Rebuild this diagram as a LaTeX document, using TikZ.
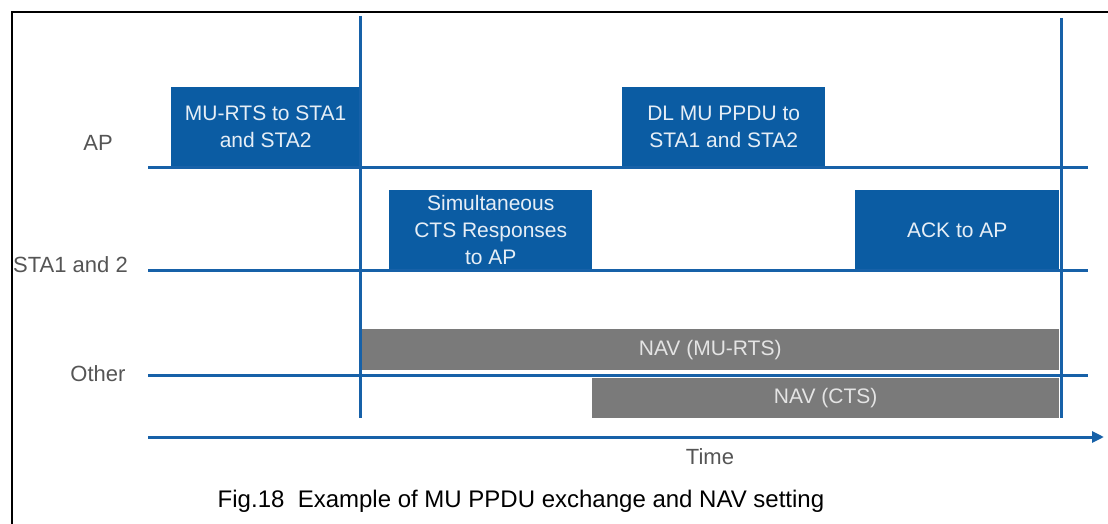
\documentclass[tikz,border=0pt]{standalone}
\usepackage{fontspec}
\setmainfont{Liberation Sans}
\usetikzlibrary{arrows.meta}
\definecolor{bbox}{HTML}{0B5CA3}
\definecolor{bline}{HTML}{1761A8}
\definecolor{gbox}{HTML}{7A7A7A}
\definecolor{lbl}{HTML}{555555}
\definecolor{btxt}{HTML}{E6EEF6}
\definecolor{gtxt}{HTML}{E4E4E4}
\tikzset{
  bluebox/.style={fill=bbox, draw=none, text=btxt, align=center, inner sep=0pt,
    font=\fontsize{21}{27}\selectfont},
  graybox/.style={fill=gbox, draw=none, text=gtxt, inner sep=0pt,
    font=\fontsize{21}{24}\selectfont},
  tline/.style={draw=bline, line width=3pt},
  rowlabel/.style={text=lbl, inner sep=0pt, font=\fontsize{22}{24}\selectfont},
}
\begin{document}
\begin{tikzpicture}[x=1pt,y=-1pt]
\useasboundingbox (0,0) rectangle (1108,524);
% frame
\draw[black, line width=2.5pt] (12,524) -- (12,12) -- (1108,12);
% gray NAV bars
\node[graybox, minimum width=698, minimum height=41, anchor=north west] (navrts) at (361,329) {NAV (MU-RTS)};
\node[graybox, minimum width=467, minimum height=40, anchor=north west] (navcts) at (592,378) {NAV (CTS)};
% blue boxes
\node[bluebox, minimum width=189, minimum height=80, anchor=south west] (murts) at (171,167) {MU-RTS to STA1\\and STA2};
\node[bluebox, minimum width=203, minimum height=80, anchor=south west] (dlmu) at (622,167) {DL MU PPDU to\\STA1 and STA2};
\node[bluebox, minimum width=203, minimum height=80, anchor=south west] (cts) at (389,270) {Simultaneous\\CTS Responses\\to AP};
\node[bluebox, minimum width=204, minimum height=80, anchor=south west] (ack) at (855,270) {ACK to AP};
% timelines
\coordinate (apL) at (148,167); \coordinate (apR) at (1088,167);
\coordinate (staL) at (148,270); \coordinate (staR) at (1088,270);
\coordinate (otL) at (148,375); \coordinate (otR) at (1088,375);
\coordinate (tL) at (148,437); \coordinate (tR) at (1104,437);
\draw[tline] (apL) -- (apR);
\draw[tline] (staL) -- (staR);
\draw[tline] (otL) -- (otR);
\draw[tline, -{Triangle[length=12pt,width=11pt]}] (tL) -- (tR);
% vertical markers
\coordinate (v1t) at (360,16); \coordinate (v1b) at (360,418);
\coordinate (v2t) at (1061,18); \coordinate (v2b) at (1061,418);
\draw[tline] (v1t) -- (v1b);
\draw[tline] (v2t) -- (v2b);
% labels
\node[rowlabel] (lap) at (98,143) {AP};
\node[rowlabel, anchor=west] (lsta) at (13,265) {STA1 and 2};
\node[rowlabel] (loth) at (98,374) {Other};
\node[rowlabel] (ltime) at (710,457) {Time};
\node[text=black, inner sep=0pt, font=\fontsize{24}{28}\selectfont] (cap) at (521,501) {Fig.18\ \ Example of MU PPDU exchange and NAV setting};
\end{tikzpicture}
\end{document}
